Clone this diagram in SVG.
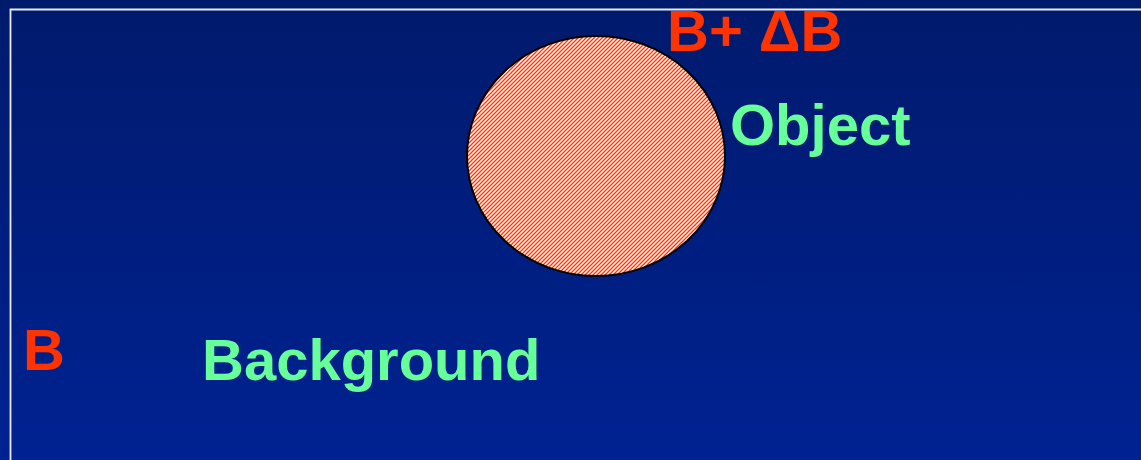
<svg xmlns="http://www.w3.org/2000/svg" width="1141" height="460" viewBox="0 0 1141 460">
  <defs>
    <linearGradient id="bg" x1="0" y1="0" x2="0" y2="1">
      <stop offset="0" stop-color="#001a6c"/>
      <stop offset="1" stop-color="#002292"/>
    </linearGradient>
    <pattern id="hatch" patternUnits="userSpaceOnUse" width="4" height="4">
      <rect width="4" height="4" fill="#ffffff"/>
      <path d="M-1,5 L5,-1 M-1,1 L1,-1 M3,5 L5,3" stroke="#ff3300" stroke-width="1.3"/>
    </pattern>
    <style>
      .lbl { font-family: "Liberation Sans", Arial, sans-serif; font-weight: bold; font-size: 58px; }
      .red { fill: #ff3300; }
      .green { fill: #66ff99; }
    </style>
  </defs>
  <rect x="0" y="0" width="1141" height="460" fill="url(#bg)"/>
  <path d="M10.5,470 V9.5 H1150" fill="none" stroke="#e8ecf4" stroke-width="1.8"/>
  <g id="object">
    <ellipse cx="596" cy="156" rx="129" ry="120" fill="url(#hatch)" stroke="#000000" stroke-width="2"/>
  </g>
  <g id="labels">
    <text class="lbl red" x="667" y="51" font-size="57">B+ ΔB</text>
    <text class="lbl green" x="730" y="145">Object</text>
    <text class="lbl red" x="23" y="370">B</text>
    <text class="lbl green" x="202" y="380">Background</text>
  </g>
  <g id="connectors"/>
</svg>
